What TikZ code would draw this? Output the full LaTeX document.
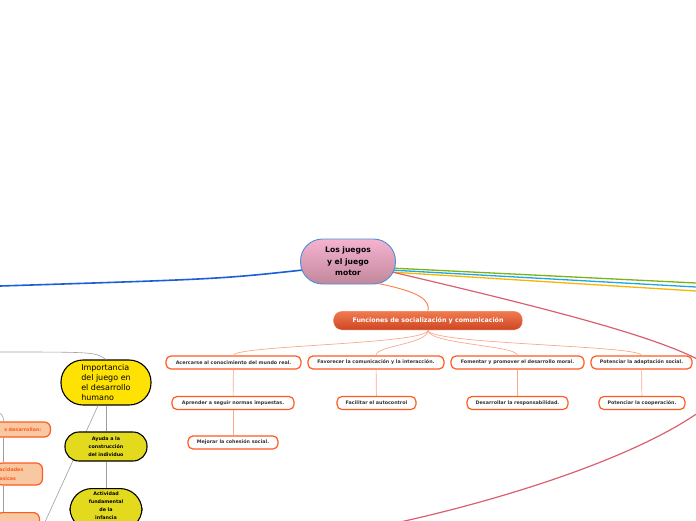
\documentclass[tikz,border=0pt]{standalone}
\usepackage{fontspec}
\setmainfont{DejaVu Sans}
\usetikzlibrary{positioning}
\definecolor{edgeorange}{HTML}{FF5A1F}
\definecolor{fanorange}{HTML}{F9A98C}
\definecolor{coreblue}{HTML}{4A90D9}
\definecolor{coretop}{HTML}{F5B3D0}
\definecolor{corebottom}{HTML}{C2879C}
\definecolor{topictop}{HTML}{F07C52}
\definecolor{topicbottom}{HTML}{CF4520}
\definecolor{leftblue}{HTML}{1A5FD6}
\definecolor{lgreen}{HTML}{7AB317}
\definecolor{lcyan}{HTML}{1EA7E1}
\definecolor{lgold}{HTML}{F7B500}
\definecolor{lred}{HTML}{D9606E}
\definecolor{mustard}{HTML}{E3DA1E}
\definecolor{peach}{HTML}{F8C8A2}

\begin{document}
\begin{tikzpicture}[
    x=1pt, y=-1pt,
    every node/.style={font=\bfseries\fontsize{4.8}{5.8}\selectfont, text=black!80, inner sep=1pt},
    core/.style={draw=coreblue, line width=0.9pt, rounded corners=22pt, top color=coretop, bottom color=corebottom,
      minimum width=95pt, minimum height=45pt, align=center, text=black, font=\bfseries\fontsize{7.6}{11.5}\selectfont},
    topic/.style={rounded corners=8pt, top color=topictop, bottom color=topicbottom, draw=white,
      minimum width=189pt, minimum height=19pt, text=white, font=\bfseries\fontsize{6.3}{7}\selectfont},
    leaf/.style={draw=edgeorange, line width=1.2pt, fill=white, rounded corners=5pt, minimum height=13pt},
    bigyellow/.style={draw=black, line width=1.1pt, fill=yellow!85!orange, rounded corners=22pt, minimum width=90pt,
      minimum height=45pt, align=left, text=black, font=\fontsize{8}{9.7}\selectfont},
    smallyellow/.style={draw=black, line width=1.1pt, fill=mustard, align=center, text=black, font=\bfseries\fontsize{4.8}{8}\selectfont},
    sidebox/.style={draw=edgeorange, line width=1.2pt, fill=peach, rounded corners=6pt, text=edgeorange, inner xsep=3pt},
    fan/.style={draw=fanorange, line width=0.7pt},
    grayline/.style={draw=gray!75, line width=0.6pt}
]
\useasboundingbox (0,0) rectangle (696,520);
\clip (0,0) rectangle (696,520);

% main branches leaving the center
\coordinate (offright) at (715,400);
\draw[leftblue, line width=1.6pt] (303,270) .. controls (220,279) .. (0,286);
\draw[lgreen, line width=1.3pt] (390,268) -- (696,283);
\draw[lcyan, line width=1.3pt] (390,270) -- (696,287);
\draw[lgold, line width=1.3pt] (390,272) -- (696,291);
\draw[lred, line width=1.2pt] (392,272) .. controls (640,330) and (760,365) .. (offright)
    .. controls (650,455) and (500,500) .. (400,522);

\node[core] (core) at (348,261.5) {Los juegos\\y el juego\\motor};

% socialization branch
\node[topic] (fun) at (428,320.5) {Funciones de socialización y comunicación};
\draw[edgeorange!80, line width=0.9pt] (core.south) ++(30,-1) .. controls (420,292) and (430,300) .. (fun.north);

\node[leaf, minimum width=135pt] (a1) at (233.5,362.5) {Acercarse al conocimiento del mundo real.};
\node[leaf, minimum width=136pt] (a2) at (376,362.5) {Favorecer la comunicación y la interacción.};
\node[leaf, minimum width=133pt] (a3) at (517.5,362.5) {Fomentar y promover el desarrollo moral.};
\node[leaf, minimum width=101pt] (a4) at (641.5,362.5) {Potenciar la adaptación social.};

\node[leaf, minimum width=122pt] (b1) at (233,403) {Aprender a seguir normas impuestas.};
\node[leaf, minimum width=79pt] (b2) at (376.5,403) {Facilitar el autocontrol};
\node[leaf, minimum width=101pt] (b3) at (517.5,403) {Desarrollar la responsabilidad.};
\node[leaf, minimum width=86pt] (b4) at (642,403) {Potenciar la cooperación.};
\node[leaf, minimum width=90pt] (c1) at (233,442.5) {Mejorar la cohesión social.};

\foreach \k in {a1,a2,a3,a4}
  \draw[fan] (fun.south) .. controls +(0,14) and +(0,-10) .. (\k.north);
\draw[fan] (a1) -- (b1);
\draw[fan] (b1) -- (c1);
\draw[fan] (a2) -- (b2);
\draw[fan] (a3) -- (b3);
\draw[fan] (a4) -- (b4);

% development branch
\coordinate (lx) at (3.5,0);
\node[bigyellow] (imp) at (106,382.5) {Importancia\\del juego en\\el desarrollo\\humano};
\draw[grayline] (imp.north) .. controls (95,352) .. (0,352);
\draw[grayline] (imp.south) ++(-8,0) -- (45,522);
\node[smallyellow, rounded corners=14pt, minimum width=82pt, minimum height=29pt] (ayu) at (106,446.5) {Ayuda a la\\construcción\\del individuo};
\node[smallyellow, rounded corners=22pt, minimum width=72pt, inner ysep=3pt, anchor=north] (act) at (106,488) {Actividad\\fundamental\\de la\\infancia\\~};
\draw[grayline] (imp) -- (ayu);
\draw[grayline] (ayu) -- (act);

\node[sidebox, anchor=east, text width=45pt, align=right, minimum height=15pt, inner xsep=9pt] (s1) at (51,429.5) {s desarrollan:};
\node[sidebox, anchor=east, text width=40pt, align=left, minimum height=22pt, font=\bfseries\fontsize{4.8}{9}\selectfont] (s2) at (43,474) {acidades\\asicas};
\node[sidebox, anchor=north east, text width=37pt, align=left, minimum height=22pt] (s3) at (40,512) {as};
\draw[grayline] (-10,410) .. controls (3,414) .. (s1.north -| lx);
\draw[grayline] (s1.south -| lx) -- (s2.north -| lx);
\draw[grayline] (s2.south -| lx) -- (s3.north -| lx);
\end{tikzpicture}
\end{document}
